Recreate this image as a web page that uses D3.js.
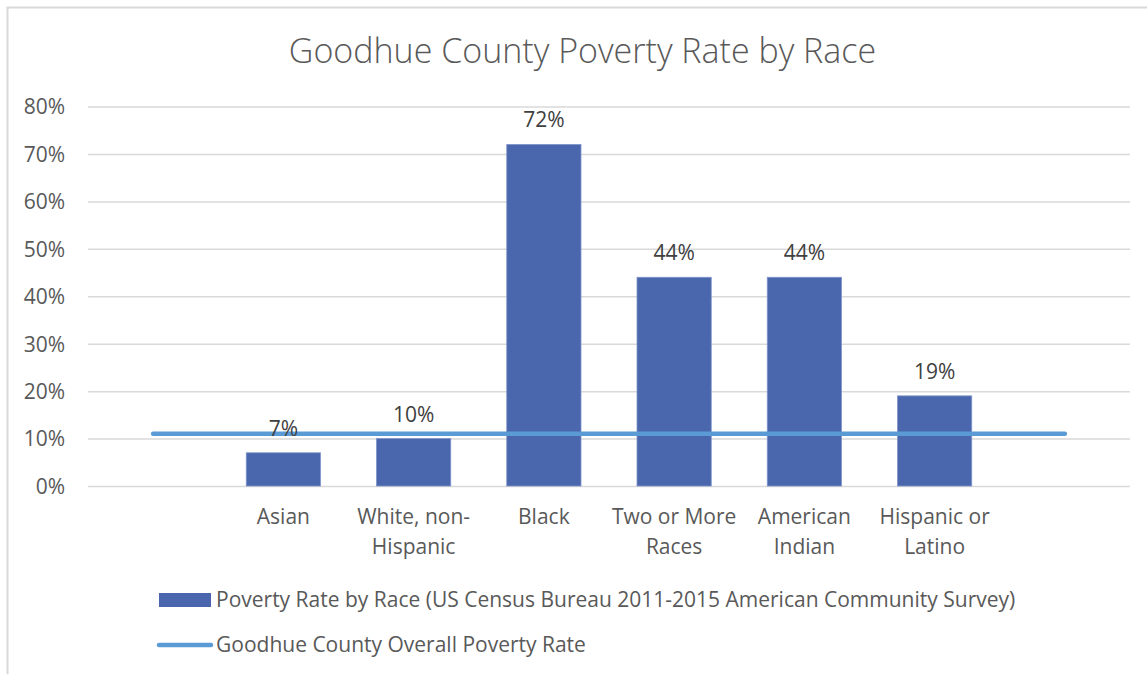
<!DOCTYPE html>
<html>
<head>
<meta charset="utf-8">
<script src="https://cdn.jsdelivr.net/npm/d3@7"></script>
<style>
  html, body { margin: 0; padding: 0; background: #fff; }
  svg { display: block; font-family: 'Open Sans', sans-serif; }
</style>
</head>
<body>
<script>
// chart values
const categories = ['', 'Asian', 'White, non-Hispanic', 'Black', 'Two or More Races', 'American Indian', 'Hispanic or Latino', '']
const povertyRate = [null, 7, 10, 72, 44, 44, 19, null]
const overallRate = [11, 11, 11, 11, 11, 11, 11, 11]
const yTicks = [0, 10, 20, 30, 40, 50, 60, 70, 80]
const titleText = 'Goodhue County Poverty Rate by Race'
const barName = 'Poverty Rate by Race (US Census Bureau 2011-2015 American Community Survey)'
const lineName = 'Goodhue County Overall Poverty Rate'

const W = 1147, H = 674
const m = {top: 106.5, right: 17, bottom: 188, left: 88}
const fs = '21px'

const svg = d3.select('body').append('svg')
    .attr('width', W)
    .attr('height', H)

// chart area frame (runs off right/bottom)
svg.append('rect')
    .attr('x', 7.5).attr('y', 7.5)
    .attr('width', W + 20).attr('height', H + 20)
    .attr('fill', '#fff')
    .attr('stroke', '#d9d9d9')
    .attr('stroke-width', 2)

svg.append('text')
    .attr('x', 582.5)
    .attr('y', 63)
    .attr('text-anchor', 'middle')
    .style('font-size', '34px')
    .style('font-weight', 300)
    .style('fill', '#595959')
    .text(titleText)

const x = d3.scaleBand()
    .domain(d3.range(categories.length))
    .range([m.left, W - m.right])
    .paddingInner(0.43)
    .paddingOuter(0.215)

const y = d3.scaleLinear()
    .domain([0, 80])
    .range([H - m.bottom, m.top])

// gridlines + y labels
const yAxis = d3.axisLeft(y)
    .tickValues(yTicks)
    .tickSize(-(W - m.right - m.left))
    .tickPadding(23)
    .tickFormat(d => d + '%')

const gy = svg.append('g')
    .attr('transform', 'translate(' + m.left + ',0)')
    .call(yAxis)
    .attr('font-family', null)
    .attr('font-size', null)
gy.select('.domain').remove()
gy.selectAll('.tick line')
    .attr('stroke', '#d9d9d9')
    .attr('stroke-width', 1.5)
gy.selectAll('.tick text')
    .style('font-size', fs)
    .style('fill', '#595959')
    .attr('dy', '0.35em')

// bars
const barData = povertyRate.map((v, i) => ({i: i, v: v})).filter(d => d.v != null)

svg.append('g').selectAll('rect')
    .data(barData)
    .enter().append('rect')
    .attr('x', d => x(d.i))
    .attr('width', x.bandwidth())
    .attr('y', d => y(d.v))
    .attr('height', d => y(0) - y(d.v))
    .attr('fill', '#4a66ac')
    .attr('stroke', '#7f95cb')
    .attr('stroke-width', 0.8)

// overall rate line
const line = d3.line()
    .x((d, i) => x(i) + x.bandwidth() / 2)
    .y(d => y(d))

svg.append('path')
    .datum(overallRate)
    .attr('d', line)
    .attr('fill', 'none')
    .attr('stroke', '#5b9bd5')
    .attr('stroke-width', 4.5)
    .attr('stroke-linecap', 'round')

// data labels
svg.append('g').selectAll('text')
    .data(barData)
    .enter().append('text')
    .attr('x', d => x(d.i) + x.bandwidth() / 2)
    .attr('y', d => y(d.v) - 17)
    .attr('text-anchor', 'middle')
    .style('font-size', fs)
    .style('fill', '#404040')
    .text(d => d.v + '%')

// category labels, wrapped like excel does (spaces and after hyphens)
const maxW = x.step() - 2
const catG = svg.append('g')
categories.forEach(function(name, i) {
  if (!name) return
  const t = catG.append('text')
      .attr('text-anchor', 'middle')
      .style('font-size', fs)
      .style('fill', '#595959')
  const tokens = name.match(/[^\s-]+-?\s*/g)
  const cx = x(i) + x.bandwidth() / 2
  let lines = [], cur = ''
  tokens.forEach(function(tok) {
    const test = (cur + tok).trim()
    t.text(test)
    if (cur && t.node().getComputedTextLength() > maxW) {
      lines.push(cur.trim())
      cur = tok
    } else {
      cur += tok
    }
  })
  lines.push(cur.trim())
  t.text(null)
  lines.forEach(function(l, k) {
    t.append('tspan')
      .attr('x', cx)
      .attr('y', 523.5 + k * 30)
      .text(l)
  })
})

// legend
const lg = svg.append('g')
lg.append('rect')
    .attr('x', 159).attr('y', 593)
    .attr('width', 52).attr('height', 14)
    .attr('fill', '#4a66ac')
lg.append('text')
    .attr('x', 216).attr('y', 607)
    .style('font-size', fs)
    .style('fill', '#595959')
    .text(barName)
lg.append('line')
    .attr('x1', 159).attr('x2', 211)
    .attr('y1', 645).attr('y2', 645)
    .attr('stroke', '#5b9bd5')
    .attr('stroke-width', 4.5)
    .attr('stroke-linecap', 'round')
lg.append('text')
    .attr('x', 216).attr('y', 652)
    .style('font-size', fs)
    .style('fill', '#595959')
    .text(lineName)
</script>
</body>
</html>
